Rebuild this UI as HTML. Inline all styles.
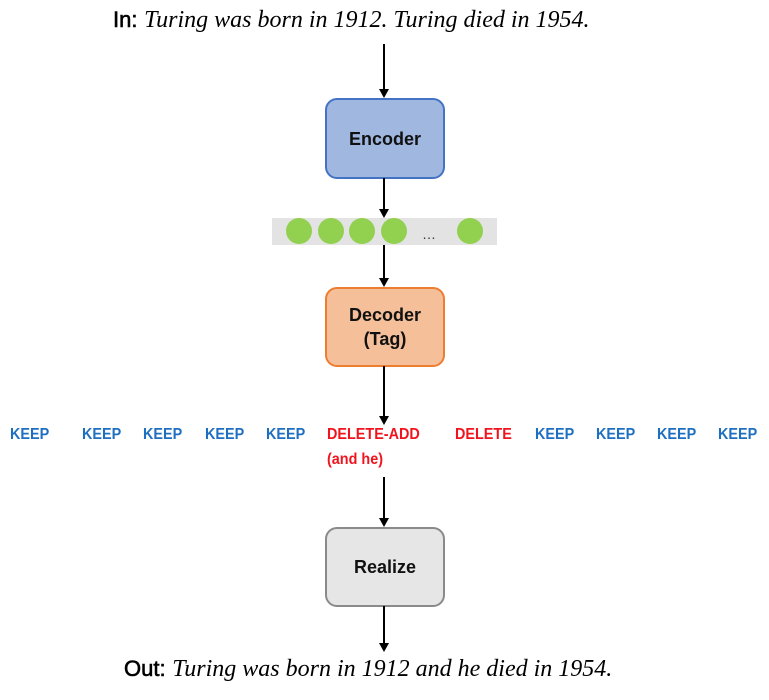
<!DOCTYPE html>
<html><head><style>
body{margin:0;width:769px;height:700px;background:#fff;position:relative;overflow:hidden;font-family:"Liberation Sans",sans-serif}
.a{position:absolute}
.t{position:absolute;font-weight:bold;font-size:16px;top:426px;transform:scaleX(0.9);transform-origin:left top;white-space:nowrap}
.k{color:#1f6fc1}.r{color:#f0141e}
.box{position:absolute;left:325px;width:116px;border-radius:12px;display:flex;align-items:center;justify-content:center;text-align:center;font-weight:bold;font-size:18px;color:#111;line-height:24px}
.line{position:absolute;left:383px;width:2px;background:#000}
.head{position:absolute;left:379px;width:0;height:0;border-left:5px solid transparent;border-right:5px solid transparent;border-top:9px solid #000}
.c{position:absolute;top:218px;width:26px;height:26px;border-radius:50%;background:#92d050}
.cap{position:absolute;white-space:nowrap;font-size:24px;line-height:30px}
.cap b{font-family:"Liberation Sans",sans-serif;font-weight:normal;-webkit-text-stroke:0.6px #000;font-size:22px}
.cap i{font-family:"Liberation Serif",serif}
</style></head><body>
<div class="cap" style="left:113px;top:5px"><b>In:</b> <i>Turing was born in 1912. Turing died in 1954.</i></div>

<div class="line" style="top:44px;height:46px"></div><div class="head" style="top:89px"></div>
<div class="box" style="top:98px;height:77px;background:#a0b8e0;border:2px solid #4472c4">Encoder</div>
<div class="line" style="top:178px;height:32px"></div><div class="head" style="top:209px"></div>
<div class="a" style="left:272px;top:218px;width:225px;height:27px;background:#e3e3e3"></div>
<div class="c" style="left:286px"></div><div class="c" style="left:318px"></div><div class="c" style="left:349px"></div><div class="c" style="left:381px"></div><div class="c" style="left:457px"></div>
<div class="a" style="left:422px;top:226px;font-size:14px;color:#333">…</div>
<div class="line" style="top:245px;height:34px"></div><div class="head" style="top:278px"></div>
<div class="box" style="top:287px;height:76px;background:#f5bf9a;border:2px solid #ed7d31">Decoder<br>(Tag)</div>
<div class="line" style="top:366px;height:52px"></div><div class="head" style="top:416px"></div>

<div class="t k" style="left:10px">KEEP</div>
<div class="t k" style="left:82px">KEEP</div>
<div class="t k" style="left:143px">KEEP</div>
<div class="t k" style="left:205px">KEEP</div>
<div class="t k" style="left:266px">KEEP</div>
<div class="t r" style="left:327px">DELETE-ADD</div>
<div class="t r" style="left:327px;top:451px">(and he)</div>
<div class="t r" style="left:455px">DELETE</div>
<div class="t k" style="left:535px">KEEP</div>
<div class="t k" style="left:596px">KEEP</div>
<div class="t k" style="left:657px">KEEP</div>
<div class="t k" style="left:718px">KEEP</div>

<div class="line" style="top:477px;height:42px"></div><div class="head" style="top:518px"></div>
<div class="box" style="top:527px;height:76px;background:#e6e6e6;border:2px solid #8a8a8a">Realize</div>
<div class="line" style="top:606px;height:38px"></div><div class="head" style="top:643px"></div>
<div class="cap" style="left:124px;top:654px"><b>Out:</b> <i>Turing was born in 1912 and he died in 1954.</i></div>
</body></html>
